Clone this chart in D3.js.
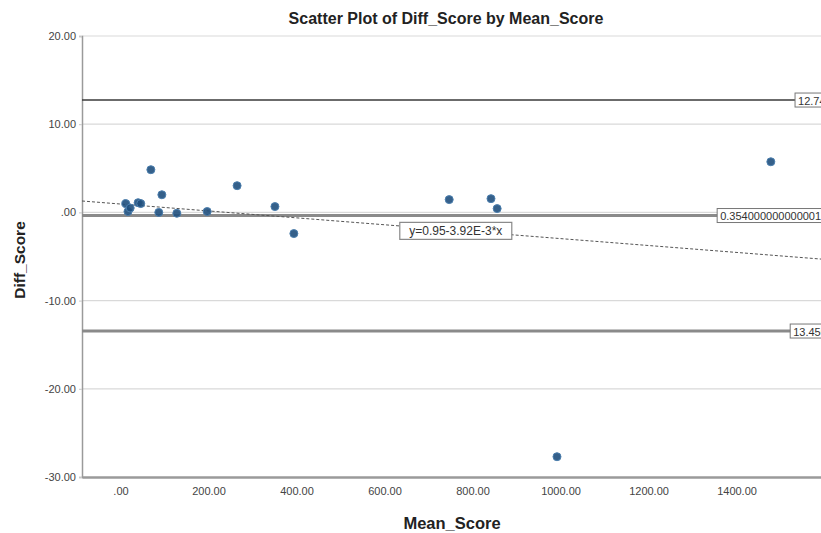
<!DOCTYPE html>
<html>
<head>
<meta charset="utf-8">
<script src="https://cdn.jsdelivr.net/npm/d3@7"></script>
<style>
  body { margin: 0; background: #fff; }
  text { font-family: "Liberation Sans", Arial, sans-serif; }
</style>
</head>
<body>
<script>
// data
const meanScore = [12, 17, 22, 40, 46, 69, 87, 94, 128, 197, 265, 351, 394, 747, 842, 856, 992, 1478];
const diffScore = [1.0, 0.1, 0.5, 1.1, 1.0, 4.84, 0.0, 2.0, -0.1, 0.1, 3.03, 0.66, -2.4, 1.45, 1.56, 0.43, -27.7, 5.74];

const xTicks = [0, 200, 400, 600, 800, 1000, 1200, 1400];
const yTicks = [20, 10, 0, -10, -20, -30];

// reference lines (upper limit, mean, lower limit)
const refValues = [12.74, -0.354, -13.45];
const refLabels = ["12.74000000000001", "0.354000000000001", "13.45000000000001"];
const refLabelX = [1533, 1356, 1522];

// fit line y = a + b*x
const fitA = 0.95;
const fitB = -3.92e-3;
const fitLabel = "y=0.95-3.92E-3*x";
const fitLabelX = 762;

const W = 821, H = 533;
const plotLeft = 82, plotRight = 821, plotTop = 36, plotBottom = 477;

const svg = d3.select("body").append("svg")
    .attr("width", W).attr("height", H);

const x = d3.scaleLinear().domain([-87.5, 1592]).range([plotLeft, plotRight]);
const y = d3.scaleLinear().domain([-30, 20]).range([plotBottom, plotTop]);

// spss style: ".00", "-10.00", plain hyphen
const fmt = v => d3.format(".2f")(v).replace("−", "-").replace(/^0\./, ".").replace(/^-0\./, "-.");

// horizontal grid lines
svg.append("g").selectAll("line")
    .data(yTicks.filter(d => d !== -30))
    .enter().append("line")
    .attr("x1", plotLeft).attr("x2", plotRight)
    .attr("y1", d => y(d)).attr("y2", d => y(d))
    .style("stroke", "#d9d9d9").style("stroke-width", 1.2);

// axes
const yAxis = svg.append("g")
    .attr("transform", `translate(${plotLeft},0)`)
    .call(d3.axisLeft(y).tickValues(yTicks).tickFormat(fmt).tickSize(3).tickPadding(3));
const xAxis = svg.append("g")
    .attr("transform", `translate(0,${plotBottom})`)
    .call(d3.axisBottom(x).tickValues(xTicks).tickFormat(fmt).tickSize(0).tickPadding(10));

[yAxis, xAxis].forEach(g => {
    g.select(".domain").style("stroke", "#9a9a9a").style("stroke-width", 1.5);
    g.selectAll(".tick line").style("stroke", "#c8c8c8");
    g.selectAll("text").style("fill", "#444").style("font-size", "11px")
        .style("font-family", "'Liberation Sans', Arial, sans-serif");
});
xAxis.select(".domain").style("stroke-width", 2.5);

// reference lines
const refStyles = [
    { c: "#3a3a3a", w: 1.5 },
    { c: "#8a8a8a", w: 3 },
    { c: "#8a8a8a", w: 3 }
];
svg.append("g").selectAll("line")
    .data(refValues)
    .enter().append("line")
    .attr("x1", plotLeft).attr("x2", plotRight)
    .attr("y1", d => y(d)).attr("y2", d => y(d))
    .style("stroke", (d, i) => refStyles[i].c)
    .style("stroke-width", (d, i) => refStyles[i].w);

// fit line
svg.append("line")
    .attr("x1", plotLeft).attr("x2", plotRight)
    .attr("y1", y(fitA + fitB * x.invert(plotLeft)))
    .attr("y2", y(fitA + fitB * x.invert(plotRight)))
    .style("stroke", "#555")
    .style("stroke-width", 1)
    .style("stroke-dasharray", "3,2");

// points
svg.append("g").selectAll("circle")
    .data(meanScore.map((m, i) => [m, diffScore[i]]))
    .enter().append("circle")
    .attr("cx", d => x(d[0]))
    .attr("cy", d => y(d[1]))
    .attr("r", 4)
    .style("fill", "#1f4f7d")
    .style("fill-opacity", 0.9)
    .style("stroke", "#4c7fae")
    .style("stroke-width", 1);

// label boxes for reference lines (cut off at the right edge as in the source)
const refLab = svg.append("g").selectAll("g")
    .data(refValues)
    .enter().append("g")
    .attr("transform", (d, i) => `translate(${x(refLabelX[i])},${y(d)})`);
refLab.append("text")
    .attr("x", 3).attr("y", 0.5)
    .attr("dominant-baseline", "central")
    .style("font-size", "11px").style("fill", "#333")
    .text((d, i) => refLabels[i]);
refLab.insert("rect", "text")
    .attr("x", 0).attr("y", -7)
    .attr("width", 200).attr("height", 14)
    .style("fill", "#fff").style("stroke", "#777").style("stroke-width", 1);

// fit label box
const fx = x(fitLabelX), fy = y(fitA + fitB * fitLabelX);
svg.append("rect")
    .attr("x", fx - 56).attr("y", fy - 8)
    .attr("width", 112).attr("height", 17)
    .style("fill", "#fff").style("stroke", "#888").style("stroke-width", 1.2);
svg.append("text")
    .attr("x", fx).attr("y", fy + 1)
    .attr("text-anchor", "middle")
    .attr("dominant-baseline", "central")
    .style("font-size", "12px").style("fill", "#333")
    .text(fitLabel);

// title and axis titles
svg.append("text")
    .attr("x", 446).attr("y", 24)
    .attr("text-anchor", "middle")
    .style("font-size", "16px").style("font-weight", "bold").style("fill", "#222")
    .text("Scatter Plot of Diff_Score by Mean_Score");

svg.append("text")
    .attr("x", 452).attr("y", 529)
    .attr("text-anchor", "middle")
    .style("font-size", "16.5px").style("font-weight", "bold").style("fill", "#222")
    .text("Mean_Score");

svg.append("text")
    .attr("transform", "translate(25,260) rotate(-90)")
    .attr("text-anchor", "middle")
    .style("font-size", "15.5px").style("font-weight", "bold").style("fill", "#222")
    .text("Diff_Score");
</script>
</body>
</html>
